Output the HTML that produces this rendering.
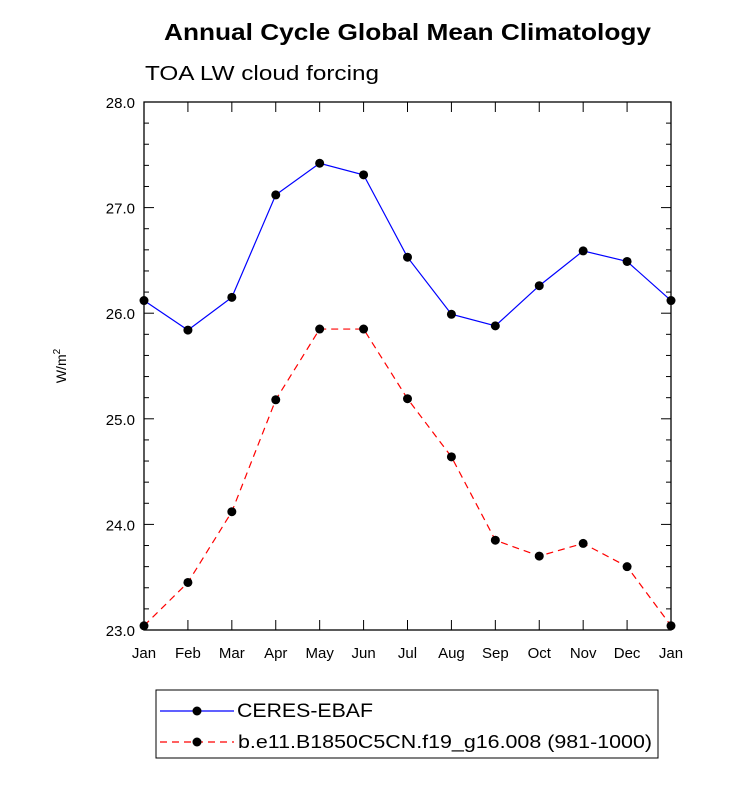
<!DOCTYPE html>
<html><head><meta charset="utf-8"><style>
body{margin:0;background:#fff}
svg{font-family:"Liberation Sans",sans-serif}
</style></head><body>
<svg id="chart" width="733" height="782">
<text x="164" y="40" textLength="487" lengthAdjust="spacingAndGlyphs" font-size="23" font-weight="bold">Annual Cycle Global Mean Climatology</text>
<text x="145" y="80" textLength="234" lengthAdjust="spacingAndGlyphs" font-size="20">TOA LW cloud forcing</text>
<text transform="translate(66,366) rotate(-90)" text-anchor="middle" font-size="14">W/m<tspan dy="-6" font-size="10">2</tspan></text>
<g id="axes"></g><g id="series"></g>
<g>
<rect x="156" y="690" width="502" height="68" fill="none" stroke="#000"/>
<g>
<line x1="160" y1="711" x2="234" y2="711" stroke="#00f" stroke-width="1.2"/><circle cx="197" cy="711" r="4.5"/>
<text x="237" y="717" font-size="19" textLength="136" lengthAdjust="spacingAndGlyphs">CERES-EBAF</text></g>
<g>
<line x1="160" y1="742" x2="234" y2="742" stroke="#f00" stroke-width="1.2" stroke-dasharray="7,5"/><circle cx="197" cy="742" r="4.5"/>
<text x="238" y="748" font-size="18" textLength="414" lengthAdjust="spacingAndGlyphs">b.e11.B1850C5CN.f19_g16.008 (981-1000)</text></g>
</g>
</svg>
<script>
const months=["Jan","Feb","Mar","Apr","May","Jun","Jul","Aug","Sep","Oct","Nov","Dec","Jan"];
const ceres=[26.12,25.84,26.15,27.12,27.42,27.31,26.53,25.99,25.88,26.26,26.59,26.49,26.12];
const model=[23.04,23.45,24.12,25.18,25.85,25.85,25.19,24.64,23.85,23.70,23.82,23.60,23.04];
const yTicks=["23.0","24.0","25.0","26.0","27.0","28.0"];
const NS="http://www.w3.org/2000/svg";
const L=144,R=671,T=102,B=630,ymin=23,ymax=28;
const xs=i=>L+i*(R-L)/(months.length-1);
const ys=v=>B-(v-ymin)/(ymax-ymin)*(B-T);
function mk(tag,attrs,parent){const e=document.createElementNS(NS,tag);for(const k in attrs)e.setAttribute(k,attrs[k]);parent.appendChild(e);return e;}
const ax=document.getElementById('axes');
const fr=mk('rect',{x:L,y:T,width:R-L,height:B-T,fill:'none',stroke:'#000','stroke-width':1.3},ax);


months.forEach((m,i)=>{const x=xs(i);
mk('line',{x1:x,y1:B,x2:x,y2:B-10,stroke:'#000'},ax);
mk('line',{x1:x,y1:T,x2:x,y2:T+10,stroke:'#000'},ax);
const t=mk('text',{x:x,y:B+28,'text-anchor':'middle','font-size':15},ax);t.textContent=m;

});
for(let v=ymin;v<=ymax+1e-9;v+=0.2){const y=ys(v);const major=Math.abs(v-Math.round(v))<1e-6;const len=major?10:5;
mk('line',{x1:L,y1:y,x2:L+len,y2:y,stroke:'#000'},ax);mk('line',{x1:R,y1:y,x2:R-len,y2:y,stroke:'#000'},ax);}
yTicks.forEach(s=>{const v=parseFloat(s);const t=mk('text',{x:L-9,y:ys(v)+6,'text-anchor':'end','font-size':15},ax);t.textContent=s;

});
const sg=document.getElementById('series');
function draw(arr,color,dash,name){const g=mk('g',{},sg);


mk('polyline',{points:arr.map((v,i)=>xs(i)+','+ys(v)).join(' '),fill:'none',stroke:color,'stroke-width':1.2,'stroke-dasharray':dash},g);
arr.forEach((v,i)=>{const c=mk('circle',{cx:xs(i),cy:ys(v),r:4.5,fill:'#000'},g);

});}
draw(ceres,'#00f','none','ceres-series');
draw(model,'#f00','7,5','model-series');
</script>
</body></html>
